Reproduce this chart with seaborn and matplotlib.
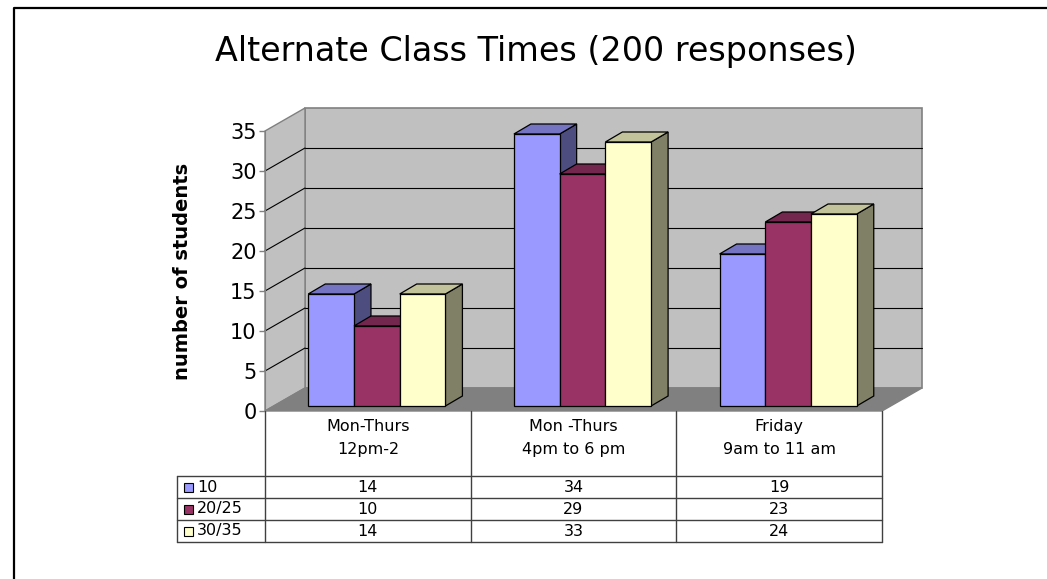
import matplotlib
matplotlib.use('Agg')
import matplotlib.pyplot as plt
import matplotlib.transforms as mtransforms
from matplotlib.patches import Polygon, Rectangle
from matplotlib.lines import Line2D
import numpy as np
import pandas as pd
import seaborn as sns

# datos
titulo = 'Alternate Class Times (200 responses)'
horarios = ['Mon-Thurs\n12pm-2', 'Mon -Thurs\n4pm to 6 pm', 'Friday\n9am to 11 am']
grupos = ['10', '20/25', '30/35']
alumnos_10 = [14, 34, 19]
alumnos_20_25 = [10, 29, 23]
alumnos_30_35 = [14, 33, 24]
colores = ['#9999FF', '#993366', '#FFFFCC']
ticks_y = [0, 5, 10, 15, 20, 25, 30, 35]

W, H = 1047, 579
sns.set_style('white')
plt.rcParams['font.family'] = ['DejaVu Sans']
plt.rcParams['text.color'] = 'black'
plt.rcParams['axes.labelcolor'] = 'black'
plt.rcParams['ytick.color'] = 'black'

filas = {'10': alumnos_10, '20/25': alumnos_20_25, '30/35': alumnos_30_35}
registros = []
for g in grupos:
    for h, v in zip(horarios, filas[g]):
        registros.append({'horario': h, 'grupo': g, 'alumnos': v})
df = pd.DataFrame(registros)

fig = plt.figure(figsize=(W / 100, H / 100), dpi=100)
ax = fig.add_axes([265 / W, 1 - 411 / H, (882 - 265) / W, 280 / H])
ax.patch.set_visible(False)

sns.barplot(data=df, x='horario', y='alumnos', hue='grupo', order=horarios,
            hue_order=grupos, palette=colores, width=0.667, saturation=1,
            edgecolor='black', linewidth=0.9, legend=False, ax=ax)
barras = list(ax.patches)

ax.set_xlim(-0.5, 2.5)
ax.set_ylim(0, 35)
ax.set_xticks([])
ax.set_xlabel('')
ax.set_yticks(ticks_y)
ax.tick_params(axis='y', labelsize=15, length=4, width=1, color='#808080',
               labelcolor='black', pad=2, left=True)
for s in ['top', 'right', 'bottom']:
    ax.spines[s].set_visible(False)
ax.spines['left'].set_color('#808080')
ax.spines['left'].set_zorder(1)
ax.set_ylabel('number of students', fontsize=14, fontweight='bold')
ax.yaxis.set_label_coords(-0.118, 0.5)

ident = mtransforms.IdentityTransform()
pared = np.array([40, 23])     # profundidad de las paredes en pixeles
desp = np.array([9, 5])        # desplazamiento de las barras
prof = np.array([17, 10])      # profundidad de las barras


def d2p(x, y):
    return ax.transData.transform((x, y))


def poly(pts, fc, ec, lw=1.0, z=1):
    ax.add_patch(Polygon(np.array(pts), closed=True, facecolor=fc, edgecolor=ec,
                         linewidth=lw, transform=ident, clip_on=False, zorder=z))


x0, x1 = -0.5, 2.5
# pared del fondo, pared izquierda y piso
poly([d2p(x0, 0) + pared, d2p(x1, 0) + pared, d2p(x1, 35) + pared, d2p(x0, 35) + pared],
     '#C0C0C0', '#808080', 1.2, 0.2)
poly([d2p(x0, 0), d2p(x0, 35), d2p(x0, 35) + pared, d2p(x0, 0) + pared],
     '#C0C0C0', '#808080', 1.0, 0.3)
poly([d2p(x0, 0), d2p(x1, 0), d2p(x1, 0) + pared, d2p(x0, 0) + pared],
     '#808080', '#808080', 1.0, 0.3)

for t in ticks_y[1:-1]:
    a, b = d2p(x0, t), d2p(x1, t)
    ax.add_line(Line2D([a[0] + pared[0], b[0] + pared[0]], [a[1] + pared[1], b[1] + pared[1]],
                       color='black', lw=0.8, transform=ident, clip_on=False, zorder=0.4))
    ax.add_line(Line2D([a[0], a[0] + pared[0]], [a[1], a[1] + pared[1]],
                       color='black', lw=0.8, transform=ident, clip_on=False, zorder=0.4))


def oscuro(c, f):
    r, g, b = matplotlib.colors.to_rgb(c)
    return (r * f, g * f, b * f)


barras.sort(key=lambda p: p.get_x())
for i, p in enumerate(barras):
    bx, bw, bh = p.get_x(), p.get_width(), p.get_height()
    fc = p.get_facecolor()
    bl = d2p(bx, 0) + desp
    br = d2p(bx + bw, 0) + desp
    tr = d2p(bx + bw, bh) + desp
    tl = d2p(bx, bh) + desp
    poly([br, br + prof, tr + prof, tr], oscuro(fc, 0.5), 'black', 0.9, 3 + 2 * i)
    poly([tl, tr, tr + prof, tl + prof], oscuro(fc, 0.76), 'black', 0.9, 3 + 2 * i)
    p.set_transform(ax.transData + mtransforms.ScaledTranslation(desp[0] / 100, desp[1] / 100,
                                                                fig.dpi_scale_trans))
    p.set_zorder(4 + 2 * i)
    p.set_clip_on(False)

# tabla de datos
def linea(xs, ys, c='black', lw=1.0):
    fig.add_artist(Line2D(xs, [H - y for y in ys], color=c, lw=lw, transform=ident))


cols = [d2p(c, 0)[0] for c in [-0.5, 0.5, 1.5, 2.5]]
filas_y = [476, 498, 520, 542]
for cx in cols:
    linea([cx, cx], [411, 542], '#404040', 1.0)
linea([177, 177], [476, 542], '#404040', 1.0)
for y in filas_y:
    linea([177, cols[-1]], [y, y], '#404040', 1.0)

for i, h in enumerate(horarios):
    cx = d2p(i, 0)[0]
    fig.text(cx / W, 1 - 438 / H, h, ha='center', va='center', fontsize=11.5, linespacing=1.6)

for j, g in enumerate(grupos):
    yc = (filas_y[j] + filas_y[j + 1]) / 2
    fig.add_artist(Rectangle((184, H - yc - 4.5), 9, 9, facecolor=colores[j], edgecolor='black',
                             lw=0.8, transform=ident))
    fig.text(197 / W, 1 - yc / H, g, ha='left', va='center', fontsize=11.5)
    for i, v in enumerate(filas[g]):
        cx = d2p(i, 0)[0]
        fig.text(cx / W, 1 - yc / H, str(v), ha='center', va='center', fontsize=11.5)

# marco y titulo
linea([14, 14, W], [H, 8, 8], 'black', 1.6)
fig.text(536 / W, 1 - 52 / H, titulo, ha='center', va='center', fontsize=24)

fig.savefig('out.png', dpi=100)
